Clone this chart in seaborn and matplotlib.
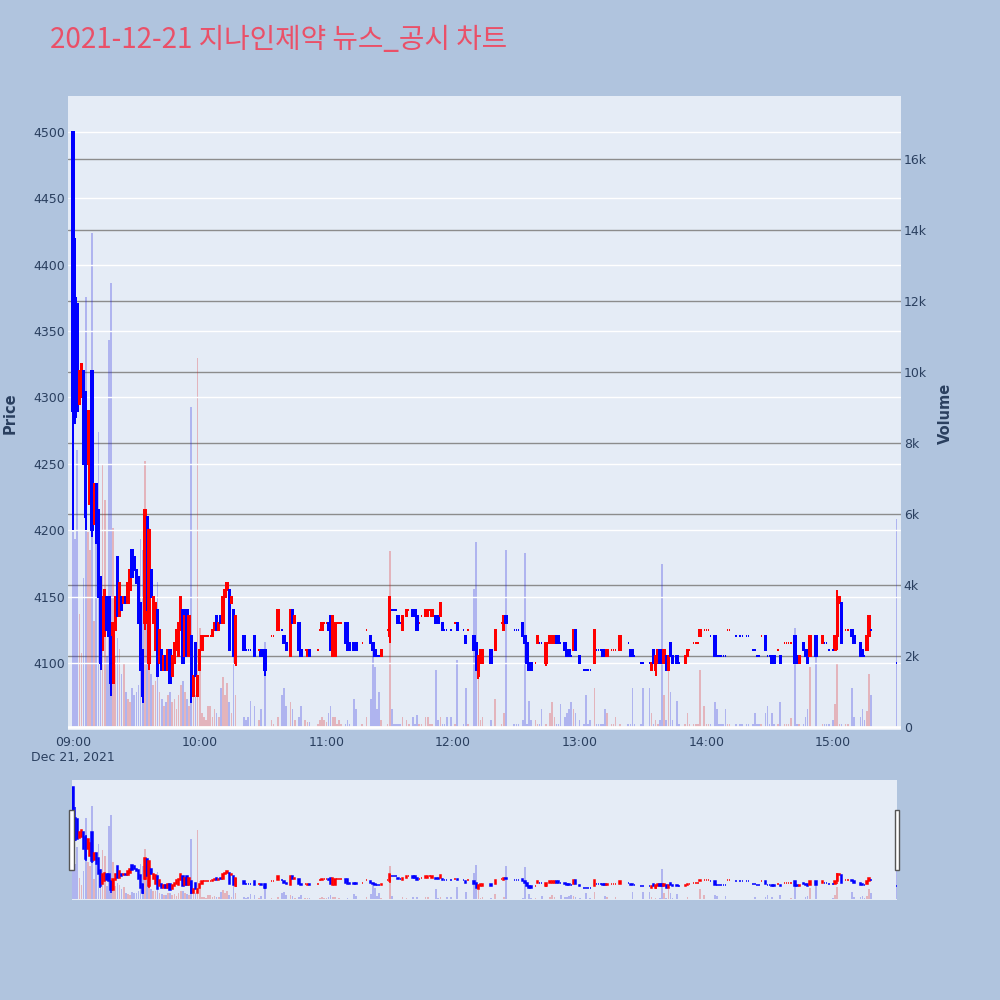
# 지나인제약 1분봉 + 거래량 차트 (plotly 스타일 재현)
import numpy as np
import pandas as pd
import seaborn as sns
import matplotlib.pyplot as plt
from matplotlib.patches import Rectangle
from matplotlib.ticker import FuncFormatter

# ---- data: minute of hour, open, close, volume ----
m09 = list(range(60))
o09 = [4500, 4375, 4370, 4295, 4300, 4320, 4300, 4250, 4220, 4320,
       4205, 4235, 4215, 4165, 4110, 4120, 4150, 4150, 4120, 4085,
       4125, 4180, 4135, 4150, 4145, 4150, 4145, 4155, 4185, 4180,
       4170, 4165, 4145, 4110, 4130, 4210, 4100, 4170, 4130, 4110,
       4140, 4100, 4110, 4095, 4105, 4095, 4110, 4090, 4100, 4110,
       4105, 4125, 4140, 4105, 4140, 4105, 4120, 4075, 4115, 4075]
c09 = [4290, 4285, 4290, 4320, 4325, 4250, 4210, 4290, 4275, 4200,
       4235, 4190, 4150, 4100, 4150, 4155, 4125, 4120, 4085, 4130,
       4150, 4135, 4160, 4140, 4150, 4145, 4160, 4170, 4165, 4170,
       4160, 4130, 4095, 4075, 4215, 4140, 4200, 4150, 4150, 4145,
       4090, 4125, 4095, 4105, 4095, 4110, 4085, 4105, 4115, 4125,
       4130, 4150, 4100, 4135, 4105, 4135, 4075, 4090, 4090, 4090]
v09 = [5500, 5300, 7800, 3200, 2100, 4200, 12100, 5500, 5000, 13900,
       3000, 5300, 8300, 4000, 7400, 6400, 2000, 10900, 12500, 5600,
       2000, 2500, 2200, 1500, 1800, 1000, 800, 700, 1100, 900,
       1000, 1200, 5300, 5000, 7500, 5000, 5600, 1500, 1200, 1300,
       4100, 1000, 800, 600, 700, 900, 1000, 700, 800, 500,
       900, 1200, 1300, 1000, 800, 600, 9000, 1400, 900, 10400]

m10 = [0, 1, 2, 3, 4, 5, 6, 7, 8, 9, 10, 11, 12, 13, 14, 15, 16, 17, 21, 22,
       23, 24, 26, 28, 29, 31, 34, 35, 37, 39, 40, 41, 43, 44, 45, 47, 48, 50, 51, 52,
       56, 57, 58, 59]
o10 = [4095, 4110, 4120, 4120, 4120, 4120, 4120, 4125, 4135, 4125, 4135, 4130, 4150, 4155, 4155, 4145, 4140, 4100, 4120, 4110,
       4110, 4110, 4120, 4110, 4110, 4110, 4120, 4120, 4125, 4125, 4120, 4115, 4105, 4140, 4130, 4130, 4110, 4110, 4105, 4110,
       4110, 4125, 4125, 4130]
c10 = [4110, 4120, 4120, 4120, 4120, 4120, 4125, 4130, 4125, 4130, 4130, 4150, 4155, 4160, 4110, 4150, 4105, 4135, 4110, 4110,
       4110, 4110, 4105, 4110, 4105, 4095, 4120, 4120, 4140, 4125, 4115, 4110, 4140, 4130, 4135, 4110, 4105, 4110, 4110, 4105,
       4110, 4125, 4130, 4130]
v10 = [2800, 400, 300, 200, 600, 600, 300, 500, 400, 300, 1100, 1400, 900, 1250, 700, 400, 3300, 900, 300, 200,
       300, 750, 600, 200, 500, 2400, 200, 100, 300, 900, 1100, 600, 700, 500, 200, 300, 600, 200, 150, 150,
       100, 200, 300, 200]

m11 = [0, 1, 2, 3, 4, 5, 6, 7, 9, 10, 11, 13, 14, 17, 19, 21, 22, 23, 24, 25,
       26, 29, 30, 31, 32, 33, 34, 35, 36, 38, 39, 41, 42, 43, 44, 45, 47, 48, 49, 50,
       52, 53, 54, 55, 56, 57, 59]
o11 = [4130, 4130, 4135, 4105, 4105, 4130, 4130, 4130, 4130, 4130, 4115, 4115, 4115, 4115, 4125, 4120, 4115, 4110, 4105, 4105,
       4105, 4125, 4120, 4140, 4140, 4140, 4135, 4130, 4125, 4135, 4140, 4140, 4140, 4135, 4130, 4135, 4135, 4135, 4140, 4135,
       4135, 4135, 4135, 4130, 4125, 4125, 4125]
c11 = [4130, 4125, 4110, 4135, 4130, 4130, 4130, 4130, 4115, 4110, 4110, 4110, 4110, 4115, 4125, 4115, 4110, 4105, 4105, 4105,
       4110, 4125, 4150, 4140, 4140, 4140, 4130, 4130, 4135, 4140, 4140, 4135, 4135, 4125, 4130, 4135, 4140, 4140, 4140, 4140,
       4130, 4130, 4145, 4125, 4125, 4125, 4125]
v11 = [150, 400, 600, 300, 300, 100, 200, 100, 100, 200, 100, 800, 500, 100, 300, 800, 2200, 1700, 500, 1000,
       200, 100, 4950, 500, 100, 100, 100, 100, 300, 200, 100, 300, 100, 350, 100, 100, 300, 300, 100, 100,
       1600, 200, 300, 100, 100, 300, 300]

m12 = [1, 2, 5, 6, 7, 10, 11, 12, 13, 14, 18, 20, 23, 24, 25, 29, 30, 31, 33, 34,
       35, 36, 37, 39, 40, 41, 42, 44, 46, 47, 48, 49, 50, 51, 53, 54, 55, 56, 57, 58]
o12 = [4130, 4130, 4125, 4120, 4125, 4120, 4115, 4090, 4100, 4100, 4110, 4110, 4130, 4125, 4135, 4125, 4125, 4125, 4130, 4120,
       4115, 4100, 4100, 4100, 4115, 4115, 4115, 4100, 4115, 4115, 4115, 4120, 4120, 4115, 4115, 4110, 4110, 4105, 4110, 4125]
c12 = [4130, 4125, 4125, 4115, 4125, 4110, 4095, 4105, 4110, 4110, 4100, 4125, 4130, 4135, 4130, 4125, 4125, 4125, 4120, 4115,
       4100, 4095, 4095, 4100, 4120, 4115, 4115, 4115, 4120, 4120, 4120, 4115, 4115, 4115, 4110, 4105, 4105, 4105, 4125, 4110]
v12 = [100, 1900, 100, 1100, 100, 3900, 5200, 1400, 200, 300, 200, 800, 100, 400, 5000, 100, 100, 100, 200, 4900,
       100, 750, 200, 200, 100, 100, 500, 100, 400, 700, 300, 100, 100, 650, 300, 400, 500, 700, 500, 400]

m13 = [0, 2, 3, 4, 5, 7, 8, 9, 10, 11, 12, 13, 15, 16, 17, 19, 23, 24, 25, 26,
       29, 30, 33, 34, 35, 36, 37, 38, 39, 40, 41, 42, 43, 44, 46, 47, 50, 51, 52, 54,
       55, 56, 57, 59]
o13 = [4105, 4095, 4095, 4095, 4095, 4100, 4110, 4110, 4110, 4110, 4110, 4105, 4110, 4110, 4110, 4110, 4115, 4110, 4110, 4105,
       4100, 4100, 4100, 4095, 4110, 4095, 4100, 4110, 4110, 4100, 4105, 4095, 4115, 4105, 4105, 4100, 4100, 4105, 4110, 4115,
       4115, 4115, 4120, 4125]
c13 = [4100, 4095, 4095, 4095, 4095, 4125, 4110, 4110, 4110, 4105, 4105, 4110, 4110, 4110, 4110, 4120, 4115, 4105, 4105, 4105,
       4100, 4100, 4100, 4100, 4100, 4105, 4110, 4100, 4100, 4110, 4095, 4105, 4105, 4100, 4100, 4100, 4105, 4110, 4110, 4115,
       4115, 4115, 4125, 4125]
v13 = [200, 100, 900, 100, 200, 1100, 100, 100, 100, 100, 500, 400, 100, 100, 300, 100, 100, 100, 1100, 100,
       100, 1100, 1100, 400, 100, 200, 100, 200, 4600, 900, 200, 1600, 1000, 200, 750, 100, 100, 400, 100, 100,
       100, 100, 1600, 600]

m14 = [0, 1, 2, 4, 5, 6, 7, 8, 9, 10, 11, 14, 16, 17, 19, 20, 22, 23, 24, 25,
       26, 28, 29, 30, 31, 32, 34, 35, 37, 38, 39, 40, 42, 43, 44, 46, 47, 48, 49, 52,
       55, 56, 57, 58]
o14 = [4125, 4125, 4120, 4120, 4105, 4105, 4105, 4105, 4105, 4125, 4125, 4120, 4120, 4120, 4120, 4120, 4110, 4110, 4105, 4105,
       4120, 4120, 4105, 4105, 4105, 4105, 4110, 4105, 4115, 4115, 4115, 4115, 4120, 4105, 4100, 4115, 4110, 4110, 4105, 4120,
       4115, 4115, 4115, 4110]
c14 = [4125, 4125, 4120, 4105, 4105, 4105, 4105, 4105, 4105, 4125, 4125, 4120, 4120, 4120, 4120, 4120, 4110, 4110, 4105, 4105,
       4120, 4110, 4105, 4105, 4100, 4100, 4110, 4100, 4115, 4115, 4115, 4115, 4100, 4100, 4105, 4110, 4105, 4100, 4120, 4105,
       4120, 4115, 4115, 4110]
v14 = [100, 100, 100, 700, 500, 100, 100, 100, 500, 100, 100, 100, 100, 100, 100, 100, 100, 400, 100, 100,
       100, 400, 600, 100, 400, 100, 100, 700, 100, 100, 100, 250, 2800, 100, 100, 100, 300, 500, 1700, 2600,
       100, 100, 100, 100]

m15 = [0, 1, 2, 3, 4, 6, 7, 9, 10, 13, 14, 15, 16, 17, 18, 30]
o15 = [4110, 4110, 4120, 4145, 4145, 4125, 4125, 4125, 4120, 4115, 4110, 4105, 4110, 4120, 4125, 4100]
c15 = [4110, 4120, 4150, 4150, 4115, 4125, 4125, 4120, 4115, 4105, 4105, 4105, 4120, 4135, 4125, 4100]
v15 = [200, 650, 1800, 100, 100, 100, 100, 1100, 300, 300, 500, 200, 450, 1500, 900, 5850]

# 꼬리가 보이는 봉 (minutes from 09:00)
wick_t = [0, 1, 6, 9, 13, 18, 33, 34, 36, 56, 77, 91, 150, 192, 224, 276, 362]
wick_lo = [4200, 4280, 4200, 4195, 4095, 4075, 4070, 4125, 4095, 4070, 4098, 4090, 4115, 4088, 4098, 4090, 4110]
wick_hi = [4500, 4420, 4305, 4320, 4165, 4120, 4110, 4215, 4200, 4120, 4135, 4110, 4150, 4105, 4115, 4105, 4155]

hour_ticks = ['09:00', '10:00', '11:00', '12:00', '13:00', '14:00', '15:00']
price_ticks = [4100, 4150, 4200, 4250, 4300, 4350, 4400, 4450, 4500]
vol_ticks = [0, 2000, 4000, 6000, 8000, 10000, 12000, 14000, 16000]

# ---- build dataframe ----
hours = [(9, m09, o09, c09, v09), (10, m10, o10, c10, v10), (11, m11, o11, c11, v11),
         (12, m12, o12, c12, v12), (13, m13, o13, c13, v13), (14, m14, o14, c14, v14),
         (15, m15, o15, c15, v15)]
rows = []
for h, m, o, c, v in hours:
    for mm, oo, cc, vv in zip(m, o, c, v):
        rows.append(((h - 9) * 60 + mm, oo, cc, vv))
df = pd.DataFrame(rows, columns=['t', 'open', 'close', 'volume'])

# 상승/하락 구분 (도지는 직전 종가와 비교)
up = []
prev_c, prev_up = None, False
for o, c in zip(df['open'], df['close']):
    if c > o:
        u = True
    elif c < o:
        u = False
    elif prev_c is None:
        u = False
    elif c > prev_c:
        u = True
    elif c < prev_c:
        u = False
    else:
        u = prev_up
    up.append(u)
    prev_c, prev_up = c, u
df['dir'] = np.where(up, 'up', 'down')

RED = '#FF0000'
BLUE = '#0000FF'
PLOT_BG = '#E5ECF6'
PAPER_BG = '#B0C4DE'
TXT = '#2a3f5f'

sns.set_theme(style='white')
plt.rcParams['font.family'] = ['DejaVu Sans']

BODY_W = 0.7      # minutes
STROKE = 1.44     # pt (2 px)


def draw(ax, axv, stroke):
    sns.barplot(data=df, x='t', y='volume', hue='dir', palette={'up': RED, 'down': BLUE},
                native_scale=True, dodge=False, width=0.75, errorbar=None, legend=False,
                linewidth=0, alpha=0.27, ax=axv)
    axv.set_xlabel('')
    axv.set_ylabel('')
    cols = np.where(df['dir'] == 'up', RED, BLUE)
    body = df['open'] != df['close']
    lo = np.minimum(df['open'], df['close'])
    hi = np.maximum(df['open'], df['close'])
    # 몸통: 채움 + 2px 테두리
    ax.bar(df['t'][body], (hi - lo)[body], bottom=lo[body], width=BODY_W,
           color=cols[body], edgecolor=cols[body], linewidth=stroke, zorder=3)
    # 도지: 짧은 가로선
    dj = ~body
    ax.hlines(df['close'][dj], df['t'][dj] - BODY_W / 2, df['t'][dj] + BODY_W / 2,
              colors=cols[dj], lw=stroke, zorder=3)
    dmap = dict(zip(df['t'], df['dir']))
    wcols = [RED if dmap[t] == 'up' else BLUE for t in wick_t]
    ax.vlines(wick_t, wick_lo, wick_hi, colors=wcols, lw=stroke, zorder=3)


fig = plt.figure(figsize=(10, 10), dpi=100)
fig.patch.set_facecolor(PAPER_BG)

# main chart
ax = fig.add_axes([0.068, 0.270, 0.833, 0.634])
axv = ax.twinx()
ax.set_zorder(axv.get_zorder() + 1)
ax.patch.set_visible(False)
axv.patch.set_visible(True)
axv.set_facecolor(PLOT_BG)

draw(ax, axv, STROKE)

ax.set_xlim(-2.4, 392.2)
ax.set_ylim(4049.5, 4527)
axv.set_ylim(-80, 17770)

ax.set_yticks(price_ticks)
axv.set_yticks(vol_ticks)
axv.yaxis.set_major_formatter(FuncFormatter(lambda v, p: '0' if v == 0 else f'{int(v / 1000)}k'))
ax.set_xticks([0, 60, 120, 180, 240, 300, 360])
ax.set_xticklabels(hour_ticks)

ax.yaxis.grid(True, color='white', lw=1)
ax.xaxis.grid(False)
axv.yaxis.grid(True, color='#8c8c8c', lw=1)
axv.xaxis.grid(False)
axv.set_axisbelow(True)
axv.axhline(0, color='white', lw=2, zorder=1)

for a in (ax, axv):
    for s in a.spines.values():
        s.set_visible(False)
ax.tick_params(axis='y', length=0, pad=2, labelsize=9, labelcolor=TXT)
ax.tick_params(axis='x', length=0, pad=4, labelsize=9, labelcolor=TXT)
axv.tick_params(axis='y', length=0, pad=2, labelsize=9, labelcolor=TXT)

fig.text(0.073, 0.242, 'Dec 21, 2021', ha='center', va='center', fontsize=9, color=TXT)
fig.text(0.010, 0.587, 'Price', rotation=90, ha='center', va='center',
         fontsize=10.5, fontweight='bold', color=TXT)
fig.text(0.945, 0.587, 'Volume', rotation=90, ha='center', va='center',
         fontsize=10.5, fontweight='bold', color=TXT)
fig.text(0.050, 0.960, '2021-12-21 지나인제약 뉴스_공시 차트', ha='left', va='center',
         fontsize=20, color='#EA5068', family=['Noto Sans CJK KR', 'DejaVu Sans'])

# range slider
axs = fig.add_axes([0.072, 0.100, 0.825, 0.120])
axsv = axs.twinx()
axs.set_zorder(axsv.get_zorder() + 1)
axs.patch.set_visible(False)
axsv.patch.set_visible(True)
axsv.set_facecolor(PLOT_BG)
draw(axs, axsv, 1.1)
axs.set_xlim(-0.5, 390.3)
axs.set_ylim(4045, 4527)
axsv.set_ylim(-80, 17770)
for a in (axs, axsv):
    a.set_xticks([])
    a.set_yticks([])
    a.grid(False)
    for s in a.spines.values():
        s.set_visible(False)

for hx in (0.069, 0.8945):
    fig.add_artist(Rectangle((hx, 0.130), 0.0045, 0.060, transform=fig.transFigure,
                             facecolor='white', edgecolor='#555555', lw=1, zorder=10))

fig.savefig('out.png', dpi=100, facecolor=PAPER_BG)
